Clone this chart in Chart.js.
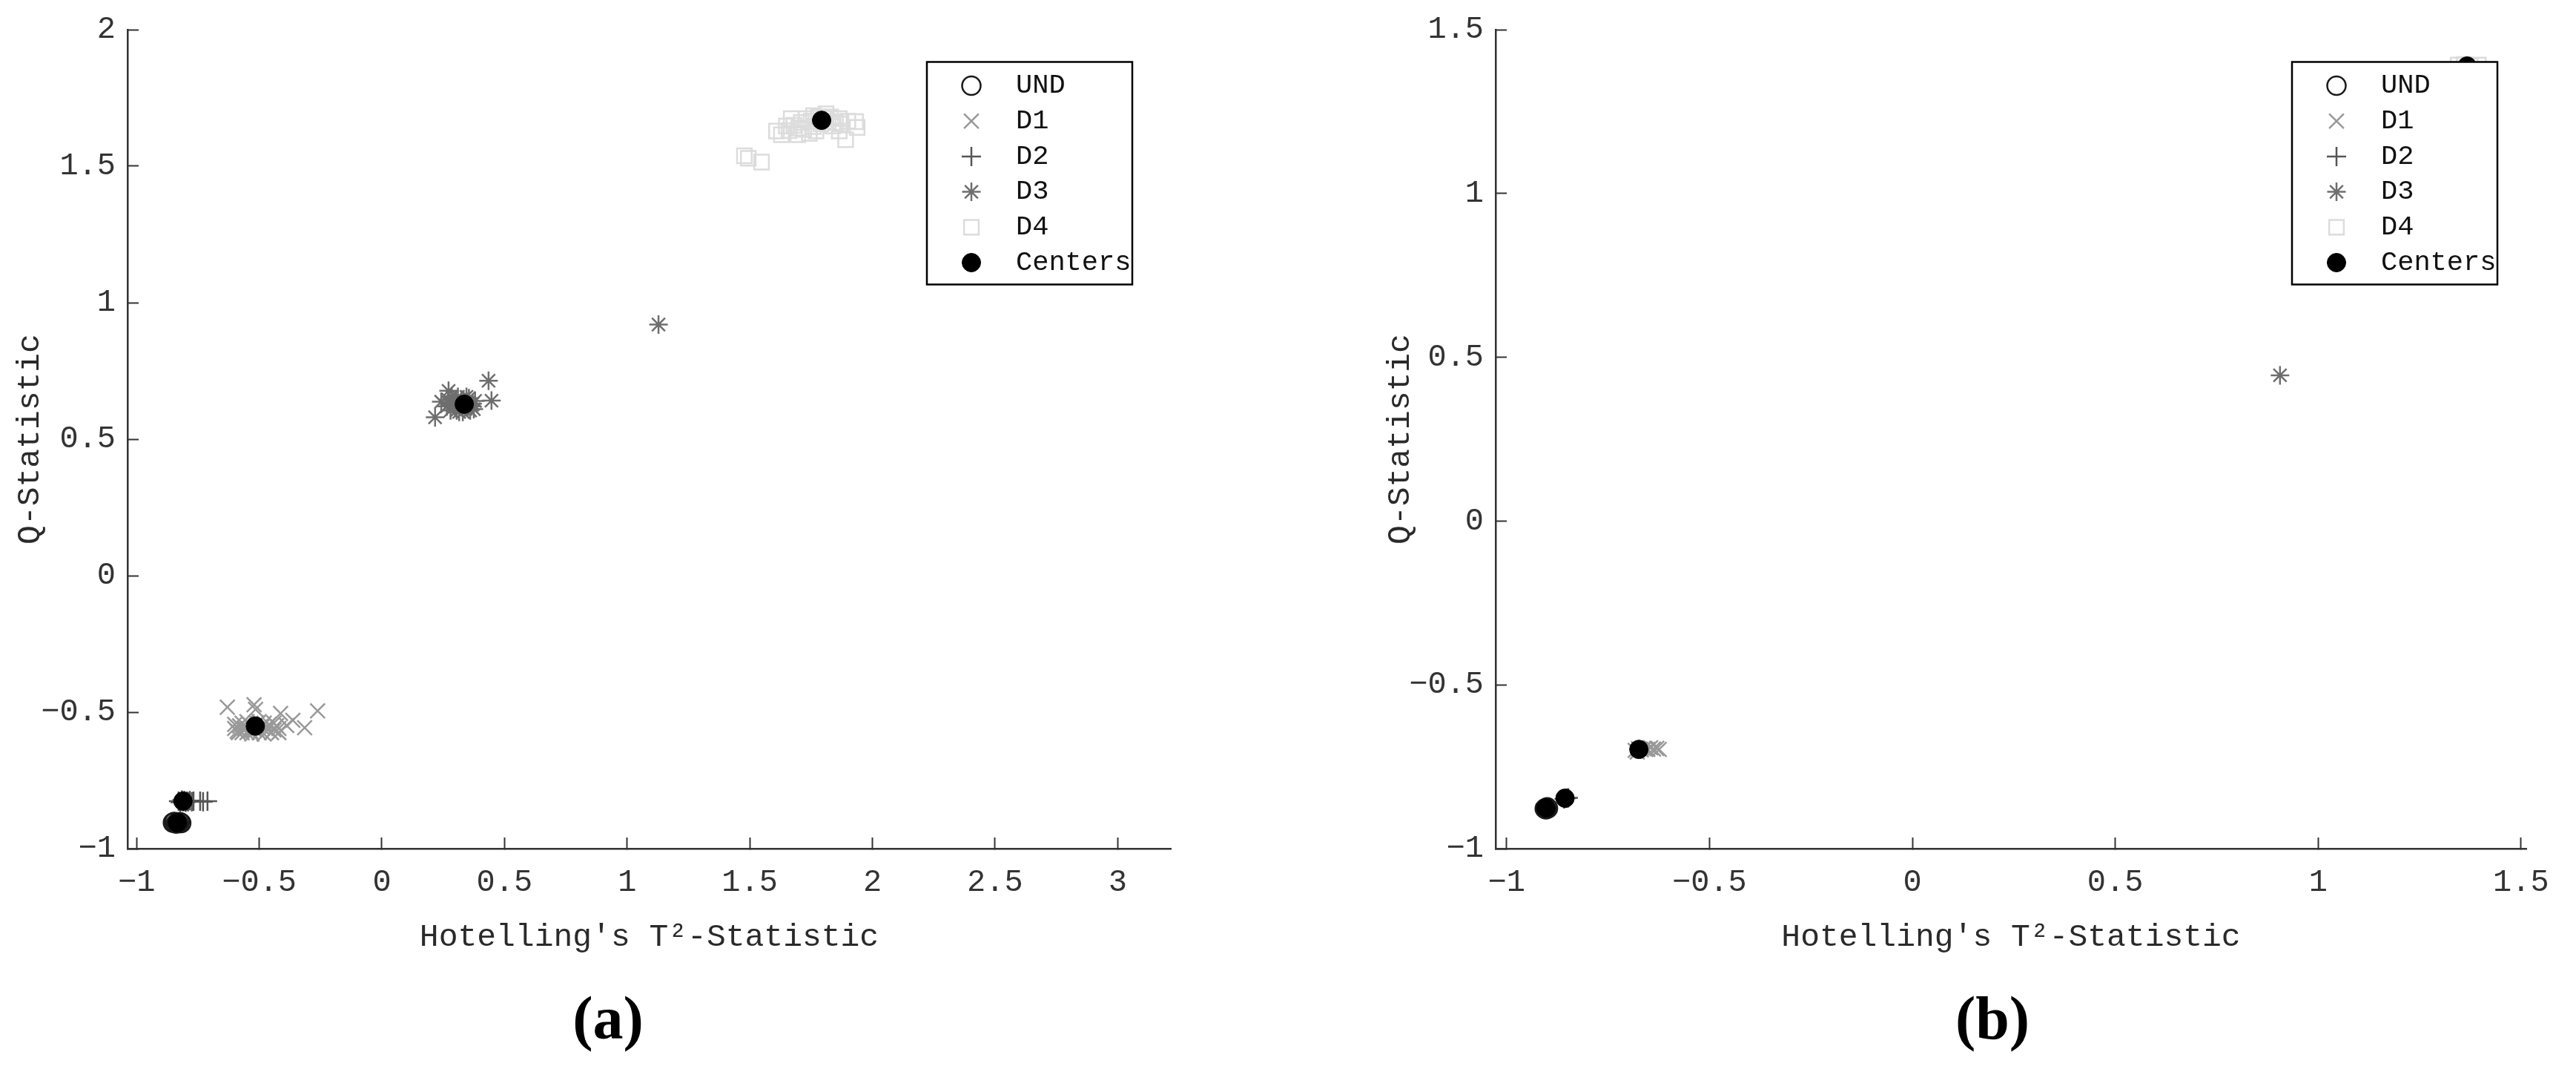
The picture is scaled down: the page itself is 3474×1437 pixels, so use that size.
<!DOCTYPE html>
<html>
<head>
<meta charset="utf-8">
<script src="https://cdn.jsdelivr.net/npm/chart.js@4/dist/chart.umd.min.js"></script>
<style>
  body { margin: 0; background: #fff; width: 3474px; height: 1437px; position: relative; overflow: hidden; }
  .panel { position: absolute; top: 0; }
  .tag { position: absolute; top: 1332px; width: 200px; text-align: center; font: bold 82px "Liberation Serif", serif; line-height: 82px; color: #000; }
</style>
</head>
<body>
<canvas id="chartA" class="panel" width="1640" height="1320" style="left:0"></canvas>
<canvas id="chartB" class="panel" width="1734" height="1320" style="left:1740px"></canvas>
<div class="tag" style="left:720px">(a)</div>
<div class="tag" style="left:2587px">(b)</div>
<script>
// values, [T2, Q]
// panel (a)
const undA = [[-0.852, -0.905], [-0.846, -0.902], [-0.84, -0.908], [-0.835, -0.904], [-0.83, -0.907], [-0.824, -0.903], [-0.818, -0.906]];
const d1A = [[-0.63, -0.482], [-0.521, -0.473], [-0.515, -0.49], [-0.413, -0.505], [-0.262, -0.495], [-0.315, -0.557],
  [-0.363, -0.53], [-0.388, -0.549], [-0.6, -0.545], [-0.42, -0.56], [-0.44, -0.54],
  [-0.6, -0.56], [-0.59, -0.57], [-0.58, -0.55], [-0.57, -0.575], [-0.56, -0.56], [-0.55, -0.575], [-0.54, -0.545],
  [-0.53, -0.58], [-0.52, -0.565], [-0.51, -0.54], [-0.5, -0.575], [-0.49, -0.555], [-0.48, -0.58], [-0.47, -0.56],
  [-0.46, -0.545], [-0.45, -0.575], [-0.44, -0.565], [-0.43, -0.55], [-0.42, -0.575], [-0.55, -0.535], [-0.5, -0.535],
  [-0.53, -0.555], [-0.57, -0.54], [-0.48, -0.54], [-0.585, -0.575], [-0.535, -0.57]];
const d2A = [[-0.829, -0.826], [-0.822, -0.83], [-0.815, -0.822], [-0.81, -0.828], [-0.805, -0.824], [-0.8, -0.83],
  [-0.795, -0.826], [-0.79, -0.828], [-0.783, -0.824], [-0.775, -0.828], [-0.768, -0.826], [-0.741, -0.826],
  [-0.729, -0.828], [-0.711, -0.826]];
const d3A = [[0.435, 0.714], [0.447, 0.641], [0.217, 0.58], [0.242, 0.637], [0.272, 0.677], [1.128, 0.92],
  [0.265, 0.62], [0.27, 0.645], [0.28, 0.605], [0.285, 0.655], [0.29, 0.625], [0.3, 0.64], [0.305, 0.605],
  [0.31, 0.655], [0.32, 0.62], [0.325, 0.645], [0.33, 0.6], [0.34, 0.635], [0.35, 0.615], [0.355, 0.65],
  [0.36, 0.605], [0.37, 0.63], [0.375, 0.61], [0.38, 0.64], [0.3, 0.62], [0.275, 0.63], [0.345, 0.655],
  [0.365, 0.62], [0.315, 0.6]];
const d4A = [[1.478, 1.538], [1.494, 1.529], [1.548, 1.515], [1.609, 1.629], [1.629, 1.615], [1.649, 1.647],
  [1.669, 1.674], [1.696, 1.615], [1.73, 1.674], [1.743, 1.62], [1.77, 1.629], [1.811, 1.692], [1.838, 1.647],
  [1.865, 1.674], [1.865, 1.629], [1.891, 1.597], [1.932, 1.663], [1.938, 1.642], [1.68, 1.65], [1.71, 1.66],
  [1.72, 1.635], [1.75, 1.665], [1.76, 1.645], [1.78, 1.68], [1.79, 1.655], [1.8, 1.675], [1.82, 1.665],
  [1.83, 1.68], [1.85, 1.66], [1.87, 1.655], [1.9, 1.665], [1.76, 1.685], [1.7, 1.64], [1.66, 1.63]];
const centersA = [[-0.834, -0.905], [-0.811, -0.826], [-0.516, -0.551], [0.336, 0.628], [1.793, 1.668]];

// panel (b)
const undB = [[-0.906, -0.878], [-0.9, -0.874], [-0.903, -0.88], [-0.898, -0.877]];
const d1B = [[-0.683, -0.7], [-0.675, -0.695], [-0.668, -0.698], [-0.66, -0.694], [-0.652, -0.697],
  [-0.645, -0.692], [-0.638, -0.696], [-0.63, -0.694], [-0.624, -0.697], [-0.678, -0.705]];
const d2B = [[-0.858, -0.848], [-0.852, -0.846], [-0.848, -0.845]];
const d3B = [[0.906, 0.445]];
const d4B = [[1.345, 1.392], [1.36, 1.394], [1.375, 1.39], [1.395, 1.392]];
const centersB = [[-0.903, -0.876], [-0.856, -0.846], [-0.674, -0.697], [1.367, 1.389]];

// axis limits
const xLimA = [-1.037, 3.217];
const yLimA = [-1, 2];
const xLimB = [-1.027, 1.513];
const yLimB = [-1, 1.5];
const tickStep = 0.5;

const seriesNames = ['UND', 'D1', 'D2', 'D3', 'D4', 'Centers'];

Chart.defaults.font.family = '"Liberation Mono", "DejaVu Sans Mono", monospace';
Chart.defaults.color = '#333';

function toPts(arr) {
  return arr.map(function (p) { return { x: p[0], y: p[1] }; });
}

function makeDatasets(groups) {
  const looks = [
    { pointStyle: 'circle', pointRadius: 12.5, borderColor: '#1a1a1a', backgroundColor: 'rgba(0,0,0,0)', borderWidth: 2.5, order: 1 },
    { pointStyle: 'crossRot', pointRadius: 14, borderColor: '#999999', backgroundColor: 'rgba(0,0,0,0)', borderWidth: 2.5, order: 2 },
    { pointStyle: 'cross', pointRadius: 13, borderColor: '#555555', backgroundColor: 'rgba(0,0,0,0)', borderWidth: 2.5, order: 3 },
    { pointStyle: 'star', pointRadius: 12.5, borderColor: '#6e6e6e', backgroundColor: 'rgba(0,0,0,0)', borderWidth: 2.5, order: 4 },
    { pointStyle: 'rect', pointRadius: 14, borderColor: '#dcdcdc', backgroundColor: 'rgba(0,0,0,0)', borderWidth: 2.5, order: 5 },
    { pointStyle: 'circle', pointRadius: 12.5, borderColor: '#000000', backgroundColor: '#000000', borderWidth: 1, order: 0 }
  ];
  return groups.map(function (g, i) {
    return Object.assign({ label: seriesNames[i], data: toPts(g), pointHoverRadius: looks[i].pointRadius }, looks[i]);
  });
}

function fmt(v) {
  const s = String(Math.round(v * 100) / 100);
  return v < 0 ? '\u2212' + s.slice(1) : s;
}

// legend box drawn inside the plot, top right, like the original
const boxLegend = {
  id: 'boxLegend',
  afterDatasetsDraw(chart, args, opts) {
    const ctx = chart.ctx;
    const area = chart.chartArea;
    const left = area.right - opts.right - opts.width;
    const top = area.top + opts.top;
    ctx.save();
    ctx.fillStyle = '#fff';
    ctx.fillRect(left, top, opts.width, opts.height);
    ctx.lineWidth = 2.5;
    ctx.strokeStyle = '#000';
    ctx.strokeRect(left, top, opts.width, opts.height);
    chart.data.datasets.forEach(function (ds, i) {
      const y = top + 32 + i * 47.7;
      ctx.fillStyle = ds.backgroundColor;
      ctx.strokeStyle = ds.borderColor;
      ctx.lineWidth = ds.borderWidth;
      Chart.helpers.drawPoint(ctx, { pointStyle: ds.pointStyle, radius: ds.pointRadius, borderWidth: ds.borderWidth, rotation: 0 }, left + 60, y);
      ctx.fillStyle = '#111';
      ctx.font = '37px "Liberation Mono", monospace';
      ctx.textBaseline = 'middle';
      ctx.textAlign = 'left';
      ctx.fillText(ds.label, left + 120, y);
    });
    ctx.restore();
  }
};

function makeOptions(xLim, yLim, yWidth, yTitlePad, legendRight) {
  const tickFont = { size: 42 };
  const titleFont = { size: 43 };
  return {
    responsive: false,
    animation: false,
    devicePixelRatio: 1,
    layout: { padding: { left: 0, top: 40, right: legendRight.pad, bottom: 16 } },
    plugins: {
      legend: { display: false },
      tooltip: { enabled: false },
      boxLegend: { right: legendRight.box, top: 43.5, width: 277, height: 300 }
    },
    scales: {
      x: {
        type: 'linear',
        min: xLim[0],
        max: xLim[1],
        afterFit: function (scale) { scale.height = 160; },
        border: { display: true, color: '#333', width: 2.5 },
        grid: { drawOnChartArea: false, drawTicks: true, tickLength: -15, tickWidth: 2, tickColor: '#333' },
        ticks: { stepSize: tickStep, includeBounds: false, autoSkip: false, maxRotation: 0, padding: 36, font: tickFont, color: '#333', callback: fmt },
        title: { display: true, text: "Hotelling's T\u00b2-Statistic", font: titleFont, color: '#2a2a2a', padding: { top: 0, bottom: 15 } }
      },
      y: {
        type: 'linear',
        min: yLim[0],
        max: yLim[1],
        afterFit: function (scale) {
          scale.width = yWidth;
          scale.paddingTop = 0;
          scale.paddingBottom = 0;
        },
        border: { display: true, color: '#333', width: 2.5 },
        grid: { drawOnChartArea: false, drawTicks: true, tickLength: -15, tickWidth: 2, tickColor: '#333' },
        ticks: { stepSize: tickStep, includeBounds: false, autoSkip: false, padding: 31, font: tickFont, color: '#333', callback: fmt },
        title: { display: true, text: 'Q-Statistic', font: titleFont, color: '#2a2a2a', padding: { top: yTitlePad, bottom: 0 } }
      }
    }
  };
}

new Chart(document.getElementById('chartA'), {
  type: 'scatter',
  data: { datasets: makeDatasets([undA, d1A, d2A, d3A, d4A, centersA]) },
  options: makeOptions(xLimA, yLimA, 172, 15, { pad: 61, box: 52 }),
  plugins: [boxLegend]
});

new Chart(document.getElementById('chartB'), {
  type: 'scatter',
  data: { datasets: makeDatasets([undB, d1B, d2B, d3B, d4B, centersB]) },
  options: makeOptions(xLimB, yLimB, 277, 123, { pad: 60, box: 39 }),
  plugins: [boxLegend]
});
</script>
</body>
</html>
